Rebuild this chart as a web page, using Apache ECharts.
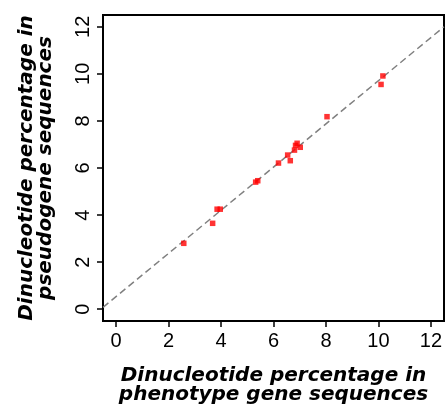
<!DOCTYPE html>
<html><head><meta charset="utf-8">
<script src="https://cdn.jsdelivr.net/npm/echarts@6/dist/echarts.min.js"></script>
<style>html,body{margin:0;padding:0;background:#fff}#c{width:447px;height:411px}</style>
</head><body><div id="c"></div>
<script>
// Dinucleotide percentages (16 dinucleotides)
const phenotypePct  = [10.17, 10.10, 8.04, 6.90, 6.84, 7.02, 6.80, 6.54, 6.64, 6.19, 5.32, 5.40, 3.85, 3.97, 3.68, 2.58];
const pseudogenePct = [9.91, 9.55, 8.18, 7.05, 6.96, 6.88, 6.76, 6.55, 6.31, 6.21, 5.40, 5.46, 4.25, 4.25, 3.65, 2.80];
// fitted (dashed) line endpoints
const fitLineX = [-0.5, 12.5];
const fitLineY = [0.08, 12.0];
const tickValues = [0, 2, 4, 6, 8, 10, 12];
const xTitle = 'Dinucleotide percentage in\nphenotype gene sequences';
const yTitle = 'Dinucleotide percentage in\npseudogene sequences';

const pts = phenotypePct.map((x, i) => [x, pseudogenePct[i]]);
const linePts = fitLineX.map((x, i) => [x, fitLineY[i]]);

const chart = echarts.init(document.getElementById('c'), null, {renderer: 'canvas'});
const titleStyle = {
  fontFamily: 'DejaVu Sans', fontWeight: 'bold', fontStyle: 'italic',
  fontSize: 20, lineHeight: 19, color: '#000'
};
const labelStyle = {fontFamily: 'Liberation Sans', fontSize: 20, color: '#000'};
chart.setOption({
  animation: false,
  backgroundColor: '#fff',
  grid: {left: 103, right: 3, top: 15, bottom: 90, show: true, borderColor: '#000', borderWidth: 2},
  xAxis: {
    type: 'value', min: -0.5, max: 12.5,
    name: xTitle, nameLocation: 'middle', nameGap: 45, nameTextStyle: titleStyle,
    axisLine: {show: true, onZero: false, lineStyle: {color: '#000', width: 2}},
    axisTick: {show: true, length: 6, customValues: tickValues, lineStyle: {color: '#000', width: 1.5}},
    axisLabel: Object.assign({customValues: tickValues, margin: 10}, labelStyle),
    splitLine: {show: false}
  },
  yAxis: {
    type: 'value', min: -0.5, max: 12.5,
    name: yTitle, nameLocation: 'middle', nameRotate: 90, nameGap: 48, nameTextStyle: titleStyle,
    axisLine: {show: true, onZero: false, lineStyle: {color: '#000', width: 2}},
    axisTick: {show: true, length: 6, customValues: tickValues, lineStyle: {color: '#000', width: 1.5}},
    axisLabel: Object.assign({customValues: tickValues, rotate: 90, margin: 10}, labelStyle),
    splitLine: {show: false}
  },
  series: [
    {
      type: 'line', data: linePts, symbol: 'none', silent: true, z: 1,
      lineStyle: {color: '#808080', width: 1.5, type: [7, 4]}
    },
    {
      type: 'scatter', data: pts, symbol: 'rect', symbolSize: 5.5, z: 3,
      itemStyle: {color: '#ff0000'}
    }
  ]
});
</script>
</body></html>
